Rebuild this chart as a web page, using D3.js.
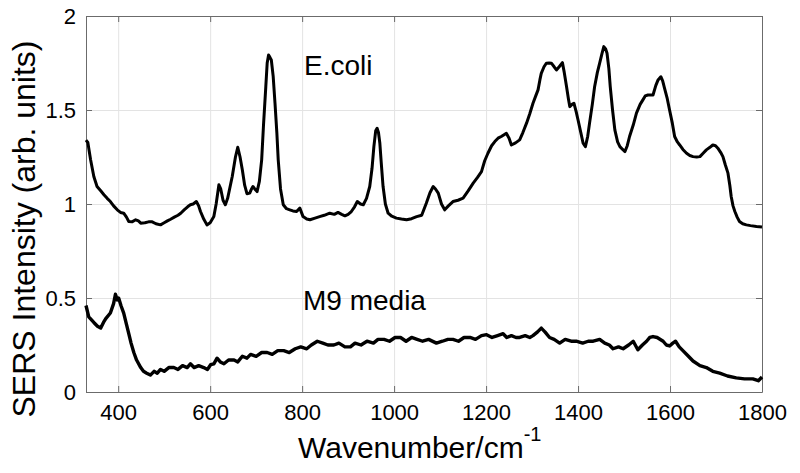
<!DOCTYPE html>
<html>
<head>
<meta charset="utf-8">
<script src="https://cdn.jsdelivr.net/npm/d3@7"></script>
<style>
  html, body { margin: 0; padding: 0; background: #fff; }
  svg { display: block; font-family: "Liberation Sans", Arial, Helvetica, sans-serif; }
</style>
</head>
<body>
<svg id="chart" width="800" height="473"></svg>
<script>
// ---- data ----
const ecoliWn = [330,334,340,347,354,362,369,376,383,390,398,405,412,418,423,430,438,444,449,458,466,474,482,492,500,507,514,522,530,536,544,551,557,563,570,575,579,586,593,600,608,613,619,623,628,633,638,644,648,655,660,665,670,675,680,686,690,693,697,702,707,712,716,721,724,727,730,733,737,741,745,748,753,759,766,773,780,788,795,802,810,817,828,838,848,860,870,878,886,893,900,907,914,920,927,933,940,947,952,956,960,963,966,969,972,976,981,987,995,1005,1016,1027,1038,1049,1060,1070,1078,1085,1090,1096,1103,1110,1118,1128,1139,1150,1161,1172,1181,1190,1197,1204,1212,1219,1226,1233,1240,1244,1250,1255,1264,1273,1280,1288,1295,1302,1308,1313,1317,1320,1326,1331,1337,1342,1348,1353,1359,1366,1370,1375,1379,1382,1387,1391,1396,1400,1406,1411,1416,1421,1425,1431,1436,1442,1447,1452,1456,1460,1463,1467,1470,1475,1480,1486,1491,1497,1502,1507,1512,1520,1527,1535,1541,1546,1552,1558,1563,1569,1574,1580,1584,1588,1594,1599,1605,1610,1616,1621,1628,1636,1643,1650,1658,1665,1672,1679,1686,1693,1699,1704,1710,1715,1720,1726,1730,1733,1737,1741,1746,1751,1758,1766,1775,1788,1800];
const ecoliVal = [1.34,1.327,1.235,1.146,1.093,1.07,1.049,1.03,1.013,0.99,0.969,0.955,0.951,0.93,0.907,0.905,0.916,0.91,0.898,0.90,0.905,0.905,0.895,0.889,0.90,0.91,0.919,0.93,0.94,0.951,0.97,0.985,0.996,1.0,1.013,0.99,0.96,0.92,0.889,0.90,0.933,1.0,1.102,1.08,1.02,0.996,1.03,1.10,1.146,1.25,1.302,1.25,1.181,1.10,1.055,1.058,1.08,1.093,1.08,1.066,1.12,1.235,1.42,1.624,1.75,1.793,1.78,1.766,1.68,1.536,1.38,1.235,1.08,0.996,0.975,0.969,0.963,0.96,0.978,0.933,0.92,0.916,0.925,0.933,0.94,0.951,0.945,0.955,0.945,0.937,0.945,0.96,0.985,1.013,1.0,0.996,1.03,1.093,1.19,1.305,1.39,1.403,1.38,1.323,1.22,1.093,1.0,0.951,0.935,0.925,0.92,0.916,0.922,0.933,0.94,1.004,1.06,1.093,1.08,1.058,1.0,0.969,0.99,1.013,1.02,1.031,1.07,1.111,1.14,1.172,1.23,1.27,1.31,1.332,1.35,1.359,1.37,1.376,1.35,1.314,1.325,1.341,1.38,1.43,1.48,1.536,1.575,1.607,1.66,1.695,1.73,1.749,1.75,1.749,1.73,1.713,1.73,1.752,1.70,1.624,1.56,1.518,1.53,1.536,1.49,1.447,1.38,1.323,1.305,1.36,1.43,1.53,1.624,1.70,1.749,1.80,1.837,1.825,1.802,1.72,1.624,1.50,1.394,1.33,1.305,1.29,1.279,1.31,1.359,1.42,1.483,1.53,1.554,1.575,1.58,1.58,1.58,1.63,1.66,1.677,1.655,1.616,1.56,1.50,1.43,1.359,1.33,1.314,1.29,1.27,1.258,1.252,1.25,1.252,1.27,1.288,1.30,1.314,1.31,1.297,1.275,1.252,1.21,1.164,1.10,1.04,0.99,0.96,0.93,0.907,0.895,0.889,0.885,0.88,0.878];

const m9Wn = [330,336,347,355,362,368,373,383,390,394,398,401,406,412,418,423,428,434,440,449,455,462,470,478,485,492,500,510,521,530,540,550,557,565,575,586,594,601,608,615,622,630,640,652,660,670,680,688,700,712,724,735,747,760,772,785,797,810,820,833,845,856,869,880,893,905,915,928,941,955,965,978,990,1002,1014,1026,1038,1050,1062,1075,1092,1105,1117,1128,1140,1152,1165,1177,1190,1201,1213,1225,1237,1245,1255,1265,1273,1285,1295,1302,1312,1320,1328,1338,1348,1360,1372,1385,1396,1410,1422,1433,1447,1458,1468,1476,1488,1498,1510,1520,1530,1540,1549,1556,1563,1572,1585,1592,1599,1606,1612,1620,1628,1640,1650,1665,1679,1693,1708,1725,1744,1762,1780,1792,1800];
const m9Val = [0.46,0.40,0.37,0.35,0.34,0.37,0.39,0.42,0.47,0.52,0.49,0.50,0.46,0.42,0.36,0.31,0.26,0.21,0.17,0.13,0.11,0.10,0.09,0.11,0.10,0.12,0.11,0.13,0.13,0.12,0.14,0.13,0.15,0.13,0.14,0.13,0.12,0.145,0.15,0.18,0.16,0.15,0.17,0.17,0.16,0.19,0.18,0.20,0.19,0.21,0.21,0.20,0.22,0.22,0.21,0.23,0.24,0.23,0.25,0.27,0.26,0.25,0.25,0.26,0.24,0.24,0.26,0.25,0.27,0.26,0.28,0.28,0.27,0.29,0.29,0.27,0.29,0.28,0.27,0.28,0.26,0.27,0.28,0.28,0.27,0.29,0.29,0.28,0.30,0.305,0.29,0.30,0.31,0.29,0.30,0.29,0.29,0.30,0.29,0.30,0.32,0.34,0.32,0.29,0.28,0.26,0.28,0.27,0.27,0.26,0.27,0.27,0.28,0.26,0.25,0.23,0.24,0.23,0.25,0.27,0.225,0.25,0.27,0.29,0.295,0.29,0.27,0.25,0.245,0.26,0.27,0.24,0.22,0.19,0.165,0.14,0.13,0.11,0.10,0.085,0.075,0.07,0.07,0.06,0.08];

const xTicks = [400,600,800,1000,1200,1400,1600,1800];
const xTickLabels = ["400","600","800","1000","1200","1400","1600","1800"];
const yTicks = [0,0.5,1,1.5,2];
const yTickLabels = ["0","0.5","1","1.5","2"];
</script>
<script>
const svg = d3.select("#chart");
const L = 86, R = 762, T = 16, B = 392;
const x = d3.scaleLinear().domain([330,1800]).range([L,R]);
const y = d3.scaleLinear().domain([0,2]).range([B,T]);

// grid
const grid = svg.append("g");
grid.selectAll("line.gx").data(xTicks.filter(d=>d<1800)).enter().append("line")
  .attr("x1",d=>x(d)+0.5).attr("x2",d=>x(d)+0.5).attr("y1",T).attr("y2",B)
  .attr("stroke","#e3e3e3").attr("stroke-width",1);
grid.selectAll("line.gy").data(yTicks.filter(d=>d>0&&d<2)).enter().append("line")
  .attr("y1",d=>Math.round(y(d))+0.5).attr("y2",d=>Math.round(y(d))+0.5).attr("x1",L).attr("x2",R)
  .attr("stroke","#e3e3e3").attr("stroke-width",1);

// axes
const fmtX = d => xTickLabels[xTicks.indexOf(d)];
const fmtY = d => yTickLabels[yTicks.indexOf(d)];
const axB = d3.axisBottom(x).tickValues(xTicks).tickFormat(fmtX).tickSizeInner(-6).tickSizeOuter(0).tickPadding(12);
const axT = d3.axisTop(x).tickValues(xTicks).tickSizeInner(-6).tickSizeOuter(0).tickFormat("");
const axL = d3.axisLeft(y).tickValues(yTicks).tickFormat(fmtY).tickSizeInner(-6).tickSizeOuter(0).tickPadding(10);
const axR = d3.axisRight(y).tickValues(yTicks).tickSizeInner(-6).tickSizeOuter(0).tickFormat("");

function style(g){
  g.select(".domain").attr("stroke","#6b6b6b");
  g.selectAll(".tick line").attr("stroke","#6b6b6b");
  g.selectAll("text").attr("fill","#000").attr("font-size","22px").attr("font-family","'Liberation Sans', Arial, sans-serif");
}
svg.append("g").attr("transform",`translate(0,${B})`).call(axB).call(style);
svg.append("g").attr("transform",`translate(0,${T})`).call(axT).call(style);
svg.append("g").attr("transform",`translate(${L},0)`).call(axL).call(style);
svg.append("g").attr("transform",`translate(${R},0)`).call(axR).call(style);

// lines
const line = d3.line().x(d=>x(d[0])).y(d=>y(d[1]));
const ecoli = ecoliWn.map((w,i)=>[w,ecoliVal[i]]);
const m9 = m9Wn.map((w,i)=>[w,m9Val[i]]);
svg.append("path").datum(ecoli).attr("d",line).attr("fill","none").attr("stroke","#000").attr("stroke-width",3).attr("stroke-linejoin","round");
svg.append("path").datum(m9).attr("d",line).attr("fill","none").attr("stroke","#000").attr("stroke-width",3.4).attr("stroke-linejoin","round");

// annotations
svg.append("text").attr("x",304).attr("y",75).attr("font-size","28px").text("E.coli");
svg.append("text").attr("x",303).attr("y",310).attr("font-size","28px").text("M9 media");

// axis titles
const xt = svg.append("text").attr("x",298).attr("y",458).attr("font-size","30px");
xt.append("tspan").text("Wavenumber/cm");
xt.append("tspan").attr("dy",-17).attr("font-size","20px").text("-1");
svg.append("text").attr("transform","translate(35,229) rotate(-90)").attr("text-anchor","middle").attr("font-size","32px").text("SERS Intensity (arb. units)");
</script>
</body>
</html>
